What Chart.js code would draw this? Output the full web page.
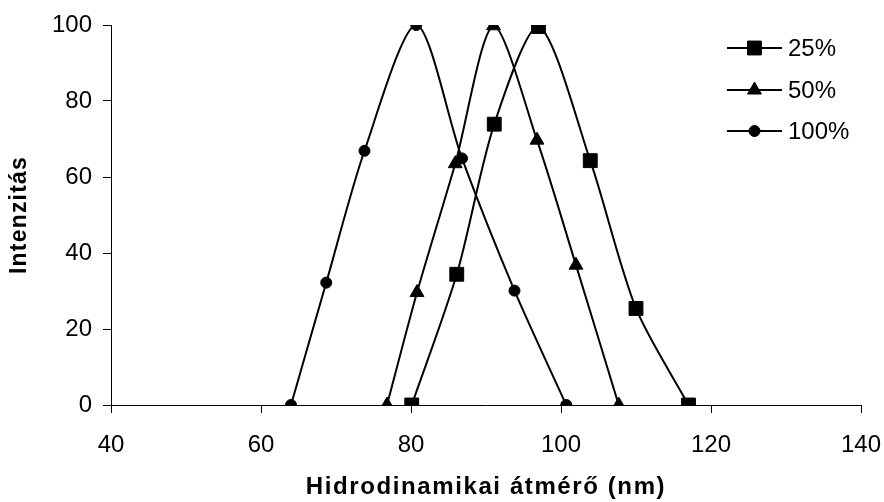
<!DOCTYPE html>
<html>
<head>
<meta charset="utf-8">
<title>Intenzitás</title>
<script src="https://cdn.jsdelivr.net/npm/chart.js@4"></script>
<style>
  html, body { margin: 0; padding: 0; background: #fff; }
  canvas { display: block; }
</style>
</head>
<body>
<canvas id="chart" width="884" height="502"></canvas>
<script>
// hydrodynamic diameter (nm) and intensity for each concentration
const labels = ["25%", "50%", "100%"];

const x25 = [80.1, 86.1, 91.1, 97.0, 103.9, 110.0, 117.0];
const y25 = [0, 34.4, 73.9, 99.6, 64.3, 25.4, 0];

const x50 = [76.8, 80.8, 85.9, 91.0, 96.8, 102.0, 107.7];
const y50 = [0, 29.6, 63.5, 99.8, 69.7, 36.8, 0];

const x100 = [64.0, 68.7, 73.8, 80.7, 86.8, 93.8, 100.7];
const y100 = [0, 32.2, 66.9, 100, 64.9, 30.1, 0];

const xTicks = [40, 60, 80, 100, 120, 140];
const yTicks = [0, 20, 40, 60, 80, 100];

const FONT = "'Liberation Sans', Arial, sans-serif";

function points(xs, ys) {
  return xs.map((x, i) => ({ x: x, y: ys[i] }));
}

function series(label, xs, ys, style, radius) {
  return {
    label: label,
    data: points(xs, ys),
    borderColor: "#000",
    backgroundColor: "#000",
    borderWidth: 2,
    pointStyle: style,
    pointRadius: radius,
    pointBorderWidth: 1,
    pointBackgroundColor: "#000",
    pointBorderColor: "#000",
    tension: 0.28,
    fill: false
  };
}

// wider letter spacing for the axis titles
function spacedTitle(scale, spacing) {
  if (scale._spaced) return;
  const orig = scale.drawTitle;
  scale.drawTitle = function () {
    const ctx = this.ctx;
    ctx.save();
    ctx.letterSpacing = spacing;
    orig.call(this);
    ctx.restore();
  };
  scale._spaced = true;
}

const titleSpacing = {
  id: "titleSpacing",
  afterLayout(chart) {
    spacedTitle(chart.scales.x, "1.6px");
    spacedTitle(chart.scales.y, "1.2px");
  }
};

// legend: short line with the marker in the middle, label on the right
const lineLegend = {
  id: "lineLegend",
  afterDraw(chart) {
    const ctx = chart.ctx;
    const x0 = 727, x1 = 782, tx = 788;
    const rows = [48, 90, 131];
    ctx.save();
    chart.data.datasets.forEach((ds, i) => {
      const y = rows[i];
      ctx.strokeStyle = ds.borderColor;
      ctx.lineWidth = ds.borderWidth;
      ctx.beginPath();
      ctx.moveTo(x0, y);
      ctx.lineTo(x1, y);
      ctx.stroke();
      ctx.fillStyle = "#000";
      ctx.strokeStyle = "#000";
      ctx.lineWidth = 1;
      Chart.helpers.drawPoint(ctx, {
        pointStyle: ds.pointStyle,
        radius: ds.pointRadius,
        rotation: 0,
        borderWidth: 1
      }, (x0 + x1) / 2, y);
      ctx.font = "24px " + FONT;
      ctx.textBaseline = "middle";
      ctx.textAlign = "left";
      ctx.fillText(ds.label, tx, y + 1);
    });
    ctx.restore();
  }
};

new Chart(document.getElementById("chart").getContext("2d"), {
  type: "line",
  data: {
    datasets: [
      series(labels[0], x25, y25, "rect", 9.8),
      series(labels[1], x50, y50, "triangle", 8),
      series(labels[2], x100, y100, "circle", 5.5)
    ]
  },
  options: {
    responsive: false,
    animation: false,
    devicePixelRatio: 1,
    layout: { padding: { top: 25, right: 23, left: 0, bottom: 0 } },
    plugins: {
      legend: { display: false },
      tooltip: { enabled: false }
    },
    scales: {
      x: {
        type: "linear",
        min: 40,
        max: 140,
        afterBuildTicks(scale) { scale.ticks = xTicks.map(v => ({ value: v })); },
        afterFit(scale) {
          scale.height = 97;
          scale.paddingLeft = 0;
          scale.paddingRight = 0;
        },
        ticks: { color: "#000", font: { family: FONT, size: 24 }, padding: 18, maxRotation: 0 },
        grid: { drawOnChartArea: false, drawTicks: true, tickLength: 8, color: "#000", lineWidth: 1 },
        border: { display: true, color: "#000", width: 1 },
        title: {
          display: true,
          text: "Hidrodinamikai átmérő (nm)",
          color: "#000",
          font: { family: FONT, size: 24, weight: "bold" },
          padding: { top: 0, bottom: 0 }
        }
      },
      y: {
        min: 0,
        max: 100,
        afterBuildTicks(scale) { scale.ticks = yTicks.map(v => ({ value: v })); },
        afterFit(scale) {
          scale.width = 111;
          scale.paddingTop = 0;
          scale.paddingBottom = 0;
        },
        ticks: { color: "#000", font: { family: FONT, size: 24 }, padding: 11 },
        grid: { drawOnChartArea: false, drawTicks: true, tickLength: 8, color: "#000", lineWidth: 1 },
        border: { display: true, color: "#000", width: 1 },
        title: {
          display: true,
          text: "Intenzitás",
          color: "#000",
          font: { family: FONT, size: 23, weight: "bold" },
          padding: { top: 6, bottom: 0 }
        }
      }
    }
  },
  plugins: [titleSpacing, lineLegend]
});
</script>
</body>
</html>
